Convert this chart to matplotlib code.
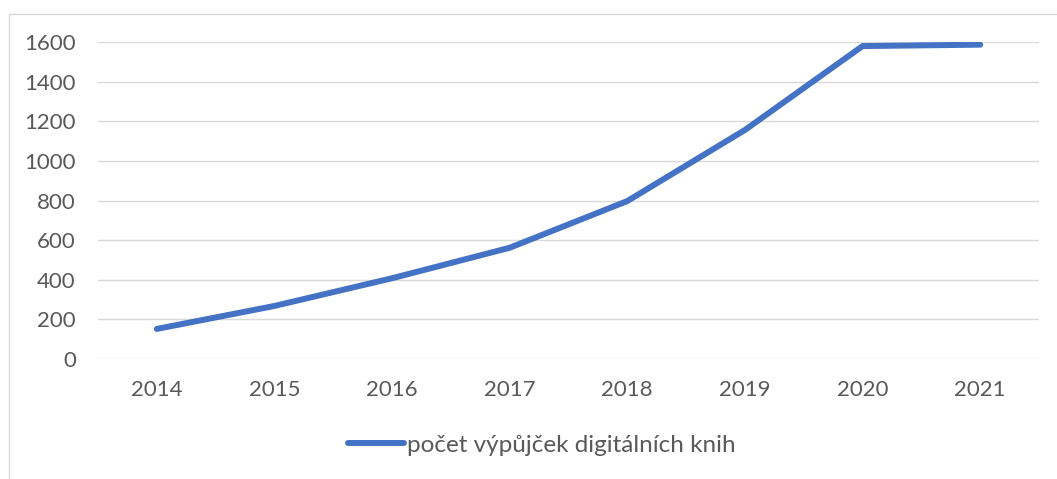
import matplotlib
matplotlib.use("Agg")
import matplotlib.pyplot as plt
from matplotlib.patches import Rectangle

years = ["2014", "2015", "2016", "2017", "2018", "2019", "2020", "2021"]
loans = [152, 268, 408, 562, 798, 1157, 1581, 1588]
series_name = "počet výpůjček digitálních knih"
y_ticks = [0, 200, 400, 600, 800, 1000, 1200, 1400, 1600]

plt.rcParams["font.family"] = ["Lato", "DejaVu Sans"]
text_color = "#595959"
grid_color = "#d9d9d9"

fig = plt.figure(figsize=(10.57, 4.79), dpi=100)
fig.patches.append(Rectangle((9 / 1057, -0.1), 1.2, 1 - 14 / 479 + 0.1,
                             transform=fig.transFigure, fill=False,
                             edgecolor=grid_color, linewidth=1.0))

ax = fig.add_axes([98 / 1057, 1 - 359 / 479, (1039 - 98) / 1057, (359 - 42.3) / 479])
x = range(len(years))
line, = ax.plot(x, loans, color="#4472C4", linewidth=4.3,
                solid_capstyle="round", solid_joinstyle="round")

ax.set_xlim(-0.5, len(years) - 0.5)
ax.set_ylim(0, 1600)
ax.set_xticks(list(x))
ax.set_xticklabels(years)
ax.set_yticks(y_ticks)
ax.yaxis.grid(True, color=grid_color, linewidth=1.0)
ax.set_axisbelow(True)
for s in ax.spines.values():
    s.set_visible(False)
ax.tick_params(axis="both", length=0, labelsize=16, labelcolor=text_color)
ax.tick_params(axis="x", pad=15)
ax.tick_params(axis="y", pad=16)

fig.legend([line], [series_name], loc="center", bbox_to_anchor=(542 / 1057, 1 - 445 / 479),
           frameon=False, fontsize=17.5, labelcolor=text_color,
           handlelength=2.3, handletextpad=0.15)

fig.savefig("out.png", dpi=100)
